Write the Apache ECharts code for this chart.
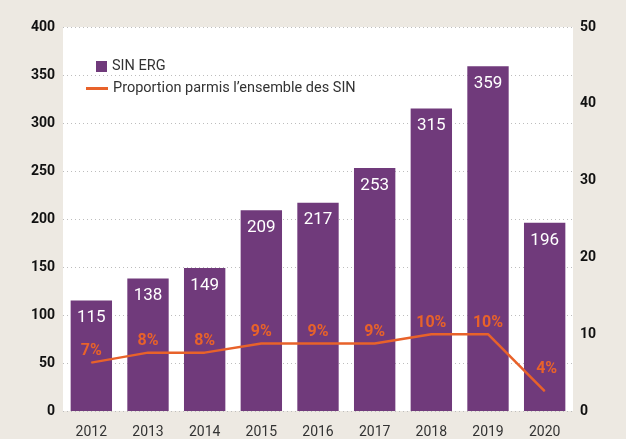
<!DOCTYPE html>
<html>
<head>
<meta charset="utf-8">
<script src="https://cdn.jsdelivr.net/npm/echarts@6/dist/echarts.min.js"></script>
<style>
html, body { margin: 0; padding: 0; background: #ede9e2; }
#chart { width: 626px; height: 439px; }
</style>
</head>
<body>
<div id="chart"></div>
<script>
// values
const years = ["2012", "2013", "2014", "2015", "2016", "2017", "2018", "2019", "2020"];
const sinErg = [115, 138, 149, 209, 217, 253, 315, 359, 196];
const proportion = [6.3, 7.6, 7.6, 8.8, 8.8, 8.8, 10, 10, 2.6];
const proportionLabels = ["7%", "8%", "8%", "9%", "9%", "9%", "10%", "10%", "4%"];
const barName = "SIN ERG";
const lineName = "Proportion parmis l\u2019ensemble des SIN";

const purple = "#703a7b";
const orange = "#e8622a";
const font = "Roboto";

// last point drops steeply, its label sits a bit higher
let lineData = proportion.map((v, i) => {
    if (i === proportion.length - 1) {
        return { value: v, label: { distance: 14, offset: [2, 0] } };
    }
    return v;
});

let myChart = echarts.init(document.getElementById("chart"));
myChart.setOption({
    backgroundColor: "#ede9e2",
    animation: false,
    textStyle: { fontFamily: font },
    legend: [
        {
            data: [barName],
            left: 91,
            top: 54,
            icon: "rect",
            itemWidth: 11,
            itemHeight: 11,
            itemGap: 6,
            textStyle: { color: "#333", fontSize: 14.5, fontFamily: font },
        },
        {
            data: [lineName],
            left: 81,
            top: 76,
            icon: "rect",
            itemWidth: 22,
            itemHeight: 3,
            itemGap: 6,
            textStyle: { color: "#333", fontSize: 14.5, fontFamily: font },
        },
    ],
    grid: {
        left: 63,
        width: 510,
        top: 27,
        bottom: 25,
        show: true,
        backgroundColor: "#ffffff",
        borderWidth: 0,
    },
    xAxis: {
        type: "category",
        data: years,
        axisLine: { show: false },
        axisTick: { show: false },
        axisLabel: { color: "#333", fontSize: 14, margin: 14 },
    },
    yAxis: [
        {
            type: "value",
            min: 0,
            max: 400,
            interval: 50,
            axisLine: { show: false },
            axisTick: { show: false },
            axisLabel: { color: "#111", fontSize: 14, fontWeight: "bold", margin: 8 },
            splitLine: {
                show: true,
                lineStyle: { color: "#bdbdbd", width: 1, type: [1, 3] },
            },
        },
        {
            type: "value",
            min: 0,
            max: 50,
            interval: 10,
            axisLine: { show: false },
            axisTick: { show: false },
            axisLabel: { color: "#111", fontSize: 14, fontWeight: "bold", margin: 7 },
            splitLine: { show: false },
        },
    ],
    series: [
        {
            name: barName,
            type: "bar",
            data: sinErg,
            barWidth: "73%",
            itemStyle: { color: purple },
            label: {
                show: true,
                position: "insideTop",
                distance: 9,
                color: "#fff",
                fontSize: 17,
                fontFamily: font,
            },
        },
        {
            name: lineName,
            type: "line",
            yAxisIndex: 1,
            data: lineData,
            symbol: "circle",
            symbolSize: 1,
            itemStyle: { color: orange },
            lineStyle: { color: orange, width: 2.5 },
            label: {
                show: true,
                position: "top",
                distance: 3,
                color: orange,
                fontSize: 16,
                fontWeight: "bold",
                fontFamily: font,
                formatter: (p) => proportionLabels[p.dataIndex],
            },
        },
    ],
});
</script>
</body>
</html>
